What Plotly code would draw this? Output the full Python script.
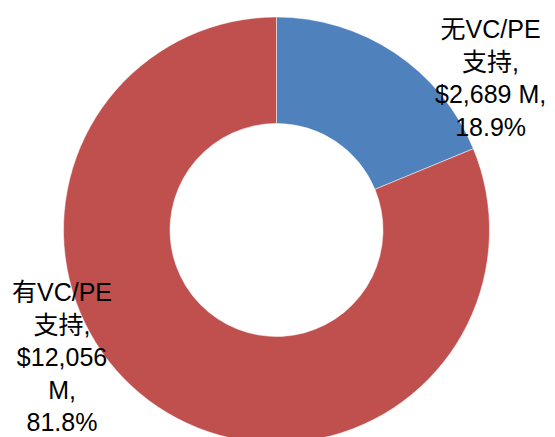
import plotly.graph_objects as go

# Data
categories = ["无VC/PE", "有VC/PE"]
amounts_musd = [2689, 12056]
shares_pct = [18.9, 81.8]
colors = ["#4F81BD", "#C0504D"]

W, H = 555, 445  # slightly taller than the window so the ring runs off the bottom edge
cx, cy, R = 276.5, 230.0, 213.0

fig = go.Figure(go.Pie(
    labels=categories,
    values=shares_pct,
    hole=0.5,
    sort=False,
    direction="clockwise",
    rotation=0,
    marker=dict(colors=colors, line=dict(color="white", width=0.5)),
    textinfo="none",
    hoverinfo="label+value",
    showlegend=False,
    domain=dict(x=[(cx - R) / W, (cx + R) / W], y=[(H - cy - R) / H, (H - cy + R) / H]),
))

def label_text(cat, amt, pct, split_amount):
    amt_s = f"${amt:,}"
    if split_amount:
        return f"{cat}<br>支持,<br>{amt_s}<br>M,<br>{pct:.1f}%"
    return f"{cat}<br>支持,<br>{amt_s} M,<br>{pct:.1f}%"

label_pos = [(490, 78), (62, 357)]
for i, (cat, amt, pct) in enumerate(zip(categories, amounts_musd, shares_pct)):
    px, py = label_pos[i]
    fig.add_annotation(
        text=label_text(cat, amt, pct, split_amount=(i == 1)),
        x=px / W, y=1 - py / H, xref="paper", yref="paper",
        xanchor="center", yanchor="middle", align="center",
        showarrow=False,
        font=dict(family="Arial, 'Liberation Sans', 'Noto Sans CJK SC', sans-serif", size=25, color="black"),
    )

fig.update_layout(
    width=W, height=H,
    margin=dict(l=0, r=0, t=0, b=0),
    paper_bgcolor="white", plot_bgcolor="white",
)

fig.write_html(
    "out.html",
    config={"displayModeBar": False},
    post_script="document.body.style.margin='0';document.body.style.overflow='hidden';document.documentElement.style.overflow='hidden';",
)
